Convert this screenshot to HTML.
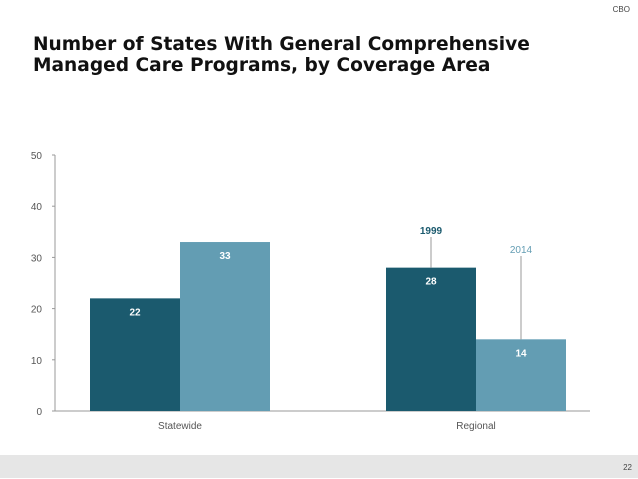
<!DOCTYPE html>
<html><head><meta charset="utf-8"><style>
body{margin:0;width:638px;height:479px;background:#fff;overflow:hidden;position:relative;font-family:"Liberation Sans",sans-serif}
.t{position:absolute;left:33px;top:34px;font-family:"DejaVu Sans",sans-serif;font-size:18.6px;font-weight:bold;line-height:21px;color:#111;white-space:nowrap}
</style></head><body>
<div style="position:absolute;right:8px;top:5px;font-size:8px;color:#444">CBO</div>
<div class="t">Number of States With General Comprehensive<br>Managed Care Programs, by Coverage Area</div>
<div style="position:absolute;left:0;top:455px;width:638px;height:23px;background:#e6e6e6"></div>
<div style="position:absolute;right:6px;top:463px;font-size:8px;color:#444">22</div>
<svg id="c" width="638" height="479" style="position:absolute;left:0;top:0"></svg>
<script>
const categories=["Statewide","Regional"];
const values1999=[22,28];
const values2014=[33,14];
const yTicks=[0,10,20,30,40,50];
const seriesNames=["1999","2014"];
const svg=document.getElementById('c');const NS="http://www.w3.org/2000/svg";
const y=v=>411-v*5.12;
const groupCenter=i=>180+i*296;
function mk(t,a,txt){const e=document.createElementNS(NS,t);for(const k in a)e.setAttribute(k,a[k]);if(txt!==undefined)e.textContent=txt;svg.appendChild(e);return e;}
let ax=mk('line',{x1:55,y1:y(50),x2:55,y2:411,stroke:'#999','stroke-width':1});


let bx=mk('line',{x1:55,y1:411,x2:590,y2:411,stroke:'#999','stroke-width':1});


yTicks.forEach(v=>{
 let tk=mk('line',{x1:52,y1:y(v),x2:55,y2:y(v),stroke:'#999'});
 
 
 let tl=mk('text',{x:42,y:y(v)+4,'text-anchor':'end','font-size':10,fill:'#555'},v);
 
 
});
const series=[values1999,values2014];const colors=["#1b5a6e","#639db3"];
categories.forEach((c,i)=>{
 const cx=groupCenter(i);
 series.forEach((s,j)=>{
  const x0=cx-90+j*90;
  let r=mk('rect',{x:x0,y:y(s[i]),width:90,height:411-y(s[i]),fill:colors[j]});
  
  
  let l=mk('text',{x:x0+45,y:y(s[i])+17,'text-anchor':'middle','font-size':10,'font-weight':'bold',fill:'#fff'},s[i]);
  
  
 });
 let cl=mk('text',{x:cx,y:429,'text-anchor':'middle','font-size':10,fill:'#555'},c);
 
 
});
const ly=[234,253];
series.forEach((s,j)=>{
 const x=groupCenter(1)-45+j*90;
 let ln=mk('line',{x1:x,y1:ly[j]+3,x2:x,y2:y(s[1]),stroke:'#999'});
 
 
 let t=mk('text',{x:x,y:ly[j],'text-anchor':'middle','font-size':10,'font-weight':j?'normal':'bold',fill:colors[j]},seriesNames[j]);
 
 
});
</script>
</body></html>
